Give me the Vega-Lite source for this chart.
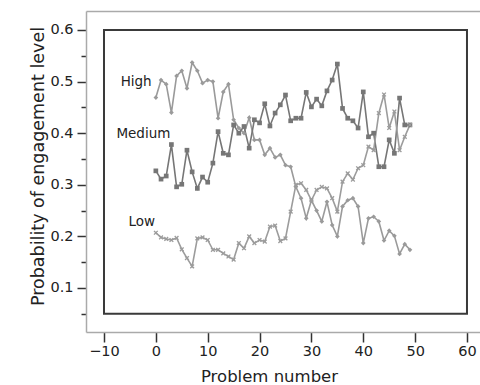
{
  "$schema": "https://vega.github.io/schema/vega-lite/v6.json",
  "width": 394,
  "height": 321,
  "autosize": {"type": "none"},
  "padding": {"left": 86, "top": 11, "right": 0, "bottom": 53},
  "background": "white",
  "config": {"view": {"stroke": null}},
  "resolve": {"axis": {"x": "independent", "y": "independent"}},
  "layer": [
    {
      "data": {"values": [{"x1": -10, "x2": 60, "y1": 0.05, "y2": 0.6}]},
      "mark": {"type": "rect", "fillOpacity": 0, "stroke": "#3a3a3a", "strokeWidth": 2},
      "encoding": {
        "x": {"field": "x1", "type": "quantitative", "scale": {"domain": [-13.47, 62.51], "nice": false, "zero": false},
          "axis": {"orient": "top", "labels": false, "ticks": false, "title": null, "grid": false, "domainColor": "#aaaaaa", "domainWidth": 1.5}},
        "x2": {"field": "x2"},
        "y": {"field": "y1", "type": "quantitative", "scale": {"domain": [0.0147, 0.6368], "nice": false, "zero": false},
          "axis": {"orient": "left", "values": [0.05, 0.15, 0.25, 0.35, 0.45, 0.55], "labels": false, "title": null, "grid": false, "domain": false,
            "tickSize": 5, "tickWidth": 1.5, "tickColor": "#333333"}},
        "y2": {"field": "y2"}
      }
    },
    {
      "data": {"values": [
        {"n":0,"s":"High","p":0.469},{"n":1,"s":"High","p":0.503},{"n":2,"s":"High","p":0.495},{"n":3,"s":"High","p":0.44},{"n":4,"s":"High","p":0.511},
        {"n":5,"s":"High","p":0.521},{"n":6,"s":"High","p":0.487},{"n":7,"s":"High","p":0.537},{"n":8,"s":"High","p":0.521},{"n":9,"s":"High","p":0.497},
        {"n":10,"s":"High","p":0.503},{"n":11,"s":"High","p":0.5},{"n":12,"s":"High","p":0.429},{"n":13,"s":"High","p":0.48},{"n":14,"s":"High","p":0.495},
        {"n":15,"s":"High","p":0.426},{"n":16,"s":"High","p":0.41},{"n":17,"s":"High","p":0.4},{"n":18,"s":"High","p":0.43},{"n":19,"s":"High","p":0.387},
        {"n":20,"s":"High","p":0.387},{"n":21,"s":"High","p":0.358},{"n":22,"s":"High","p":0.371},{"n":23,"s":"High","p":0.353},{"n":24,"s":"High","p":0.358},
        {"n":25,"s":"High","p":0.338},{"n":26,"s":"High","p":0.335},{"n":27,"s":"High","p":0.296},{"n":28,"s":"High","p":0.274},{"n":29,"s":"High","p":0.235},
        {"n":30,"s":"High","p":0.27},{"n":31,"s":"High","p":0.25},{"n":32,"s":"High","p":0.229},{"n":33,"s":"High","p":0.267},{"n":34,"s":"High","p":0.222},
        {"n":35,"s":"High","p":0.2},{"n":36,"s":"High","p":0.258},{"n":37,"s":"High","p":0.27},{"n":38,"s":"High","p":0.274},{"n":39,"s":"High","p":0.258},
        {"n":40,"s":"High","p":0.187},{"n":41,"s":"High","p":0.235},{"n":42,"s":"High","p":0.238},{"n":43,"s":"High","p":0.229},{"n":44,"s":"High","p":0.192},
        {"n":45,"s":"High","p":0.211},{"n":46,"s":"High","p":0.201},{"n":47,"s":"High","p":0.166},{"n":48,"s":"High","p":0.185},{"n":49,"s":"High","p":0.174},
        {"n":0,"s":"Medium","p":0.327},{"n":1,"s":"Medium","p":0.311},{"n":2,"s":"Medium","p":0.317},{"n":3,"s":"Medium","p":0.378},{"n":4,"s":"Medium","p":0.296},
        {"n":5,"s":"Medium","p":0.301},{"n":6,"s":"Medium","p":0.367},{"n":7,"s":"Medium","p":0.325},{"n":8,"s":"Medium","p":0.293},{"n":9,"s":"Medium","p":0.315},
        {"n":10,"s":"Medium","p":0.305},{"n":11,"s":"Medium","p":0.342},{"n":12,"s":"Medium","p":0.403},{"n":13,"s":"Medium","p":0.361},{"n":14,"s":"Medium","p":0.358},
        {"n":15,"s":"Medium","p":0.416},{"n":16,"s":"Medium","p":0.4},{"n":17,"s":"Medium","p":0.413},{"n":18,"s":"Medium","p":0.371},{"n":19,"s":"Medium","p":0.426},
        {"n":20,"s":"Medium","p":0.42},{"n":21,"s":"Medium","p":0.457},{"n":22,"s":"Medium","p":0.414},{"n":23,"s":"Medium","p":0.439},{"n":24,"s":"Medium","p":0.455},
        {"n":25,"s":"Medium","p":0.474},{"n":26,"s":"Medium","p":0.424},{"n":27,"s":"Medium","p":0.429},{"n":28,"s":"Medium","p":0.429},{"n":29,"s":"Medium","p":0.479},
        {"n":30,"s":"Medium","p":0.451},{"n":31,"s":"Medium","p":0.466},{"n":32,"s":"Medium","p":0.453},{"n":33,"s":"Medium","p":0.482},{"n":34,"s":"Medium","p":0.503},
        {"n":35,"s":"Medium","p":0.534},{"n":36,"s":"Medium","p":0.448},{"n":37,"s":"Medium","p":0.429},{"n":38,"s":"Medium","p":0.424},{"n":39,"s":"Medium","p":0.41},
        {"n":40,"s":"Medium","p":0.48},{"n":41,"s":"Medium","p":0.393},{"n":42,"s":"Medium","p":0.4},{"n":43,"s":"Medium","p":0.335},{"n":44,"s":"Medium","p":0.335},
        {"n":45,"s":"Medium","p":0.387},{"n":46,"s":"Medium","p":0.361},{"n":47,"s":"Medium","p":0.468},{"n":48,"s":"Medium","p":0.416},{"n":49,"s":"Medium","p":0.416},
        {"n":0,"s":"Low","p":0.207},{"n":1,"s":"Low","p":0.198},{"n":2,"s":"Low","p":0.195},{"n":3,"s":"Low","p":0.193},{"n":4,"s":"Low","p":0.197},
        {"n":5,"s":"Low","p":0.175},{"n":6,"s":"Low","p":0.158},{"n":7,"s":"Low","p":0.142},{"n":8,"s":"Low","p":0.196},{"n":9,"s":"Low","p":0.198},
        {"n":10,"s":"Low","p":0.193},{"n":11,"s":"Low","p":0.174},{"n":12,"s":"Low","p":0.174},{"n":13,"s":"Low","p":0.167},{"n":14,"s":"Low","p":0.161},
        {"n":15,"s":"Low","p":0.155},{"n":16,"s":"Low","p":0.187},{"n":17,"s":"Low","p":0.177},{"n":18,"s":"Low","p":0.2},{"n":19,"s":"Low","p":0.187},
        {"n":20,"s":"Low","p":0.193},{"n":21,"s":"Low","p":0.19},{"n":22,"s":"Low","p":0.219},{"n":23,"s":"Low","p":0.221},{"n":24,"s":"Low","p":0.191},
        {"n":25,"s":"Low","p":0.196},{"n":26,"s":"Low","p":0.248},{"n":27,"s":"Low","p":0.3},{"n":28,"s":"Low","p":0.303},{"n":29,"s":"Low","p":0.29},
        {"n":30,"s":"Low","p":0.27},{"n":31,"s":"Low","p":0.29},{"n":32,"s":"Low","p":0.296},{"n":33,"s":"Low","p":0.293},{"n":34,"s":"Low","p":0.274},
        {"n":35,"s":"Low","p":0.248},{"n":36,"s":"Low","p":0.306},{"n":37,"s":"Low","p":0.322},{"n":38,"s":"Low","p":0.31},{"n":39,"s":"Low","p":0.332},
        {"n":40,"s":"Low","p":0.338},{"n":41,"s":"Low","p":0.374},{"n":42,"s":"Low","p":0.367},{"n":43,"s":"Low","p":0.439},{"n":44,"s":"Low","p":0.475},
        {"n":45,"s":"Low","p":0.41},{"n":46,"s":"Low","p":0.442},{"n":47,"s":"Low","p":0.367},{"n":48,"s":"Low","p":0.393},{"n":49,"s":"Low","p":0.416}
      ]},
      "encoding": {
        "x": {"field": "n", "type": "quantitative", "title": "Problem number",
          "axis": {"orient": "bottom", "values": [-10, 0, 10, 20, 30, 40, 50, 60], "grid": false,
            "domainColor": "#aaaaaa", "domainWidth": 1.5, "tickColor": "#333333", "tickWidth": 1.5, "tickSize": 10,
            "labelFont": "DejaVu Sans", "labelFontSize": 14.5, "labelColor": "#222222", "labelPadding": 2, "labelFlush": false,
            "titleFont": "DejaVu Sans", "titleFontSize": 16.5, "titleFontWeight": "normal", "titleColor": "#222222",
            "titleX": 183, "titleY": 49, "titleBaseline": "alphabetic", "titleAnchor": null, "titleAlign": "center"}},
        "y": {"field": "p", "type": "quantitative", "title": "Probability of engagement level",
          "axis": {"orient": "left", "values": [0.1, 0.2, 0.3, 0.4, 0.5, 0.6], "format": ".1f", "tickSize": 9,
            "grid": false, "labelOverlap": false, "labelFlush": false,
            "domainColor": "#aaaaaa", "domainWidth": 1.5, "tickColor": "#333333", "tickWidth": 1.5,
            "labelFont": "DejaVu Sans", "labelFontSize": 14.5, "labelColor": "#222222", "labelPadding": 4,
            "titleFont": "DejaVu Sans", "titleFontSize": 17.5, "titleFontWeight": "normal", "titleColor": "#222222",
            "titleX": -43, "titleY": 155, "titleAngle": -90, "titleAlign": "center", "titleBaseline": "alphabetic", "titleAnchor": null}},
        "color": {"field": "s", "type": "nominal", "legend": null,
          "scale": {"domain": ["High", "Medium", "Low"], "range": ["#9a9a9a", "#767676", "#9c9c9c"]}}
      },
      "layer": [
        {"mark": {"type": "line", "strokeWidth": 1.6}},
        {"mark": {"type": "point", "filled": true, "size": 22, "opacity": 1},
          "encoding": {"shape": {"field": "s", "type": "nominal", "legend": null,
            "scale": {"domain": ["High", "Medium", "Low"], "range": ["diamond", "square", "M-1,-0.6L-0.6,-1L0,-0.4L0.6,-1L1,-0.6L0.4,0L1,0.6L0.6,1L0,0.4L-0.6,1L-1,0.6L-0.4,0Z"]}}}},
        {"data": {"values": [{"t": "High", "n": -3.8, "p": 0.5}, {"t": "Medium", "n": -2.4, "p": 0.398}, {"t": "Low", "n": -2.7, "p": 0.228}]},
          "mark": {"type": "text", "font": "DejaVu Sans", "fontSize": 13.5, "color": "#222222", "align": "center", "baseline": "middle"},
          "encoding": {"text": {"field": "t"}, "color": {"value": "#222222"}}}
      ]
    }
  ]
}
